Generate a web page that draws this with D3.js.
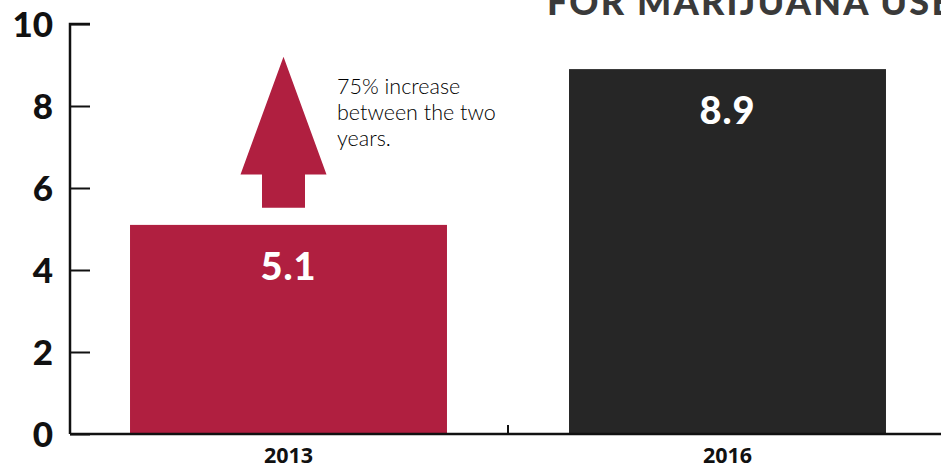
<!DOCTYPE html>
<html><head><meta charset="utf-8">
<script src="https://cdn.jsdelivr.net/npm/d3@7"></script>
<style>
html,body{margin:0;padding:0;background:#fff;}
svg{display:block;}
</style></head>
<body>
<svg id="chart" width="941" height="471"></svg>
<script>
const categories = ["2013", "2016"];
const values = [5.1, 8.9];
const barColors = ["#B01F40", "#262626"];
const yTicks = [0, 2, 4, 6, 8, 10];
const titleText = "FOR MARIJUANA USE";
const noteLines = ["75% increase", "between the two", "years."];
// arrow annotation in data units (value levels)
const arrowLevels = {tip: 9.2, headBase: 6.33, bottom: 5.52};

const svg = d3.select("#chart");
const W = 941, H = 471;
const m = {left: 70, top: 24, bottom: 37};
const x = d3.scaleBand().domain(categories).range([69, 947]).padding(0);
const y = d3.scaleLinear().domain([0, 10]).range([H - m.bottom, m.top]);
const barW = x.bandwidth() * 0.722;

// title (clipped at top)
svg.append("text").attr("x", 547).attr("y", 15)
  .attr("font-family", "Lato, sans-serif").attr("font-weight", 900)
  .attr("font-size", 36).attr("fill", "#3a3a3a").attr("letter-spacing", 2.2)
  .text(titleText);

// bars
svg.selectAll("rect.bar").data(categories).enter().append("rect")
  .attr("class", "bar")
  .attr("x", d => x(d) + x.bandwidth() / 2 - barW / 2)
  .attr("width", barW)
  .attr("y", (d, i) => y(values[i]))
  .attr("height", (d, i) => y(0) - y(values[i]) + 1)
  .attr("fill", (d, i) => barColors[i]);

// value labels
svg.selectAll("text.val").data(categories).enter().append("text")
  .attr("class", "val")
  .attr("x", d => x(d) + x.bandwidth() / 2)
  .attr("y", (d, i) => y(values[i]) + 55)
  .attr("text-anchor", "middle")
  .attr("font-family", "Lato, sans-serif").attr("font-weight", 900)
  .attr("font-size", 38).attr("fill", "#fff").attr("letter-spacing", 1)
  .text((d, i) => values[i].toFixed(1));

// y axis
const yAxis = svg.append("g").attr("transform", `translate(${m.left},0)`)
  .call(d3.axisRight(y).tickValues(yTicks).tickSize(20).tickFormat(""));
yAxis.select(".domain").attr("stroke", "#111").attr("stroke-width", 2.5)
  .attr("d", `M20,${y(10)}H0V${y(0)}`);
yAxis.selectAll(".tick line").attr("stroke", "#111").attr("stroke-width", 2);
svg.append("g").selectAll("text").data(yTicks).enter().append("text")
  .attr("x", 53).attr("y", d => y(d) + 13)
  .attr("text-anchor", "end")
  .attr("font-family", "Lato, sans-serif").attr("font-weight", 900)
  .attr("font-size", 35).attr("fill", "#111")
  .text(d => d);

// x axis
const xAxis = svg.append("g").attr("transform", `translate(0,${y(0)})`)
  .call(d3.axisBottom(x).tickSize(0).tickFormat(""));
xAxis.select(".domain").attr("stroke", "#111").attr("stroke-width", 2.5)
  .attr("d", `M${m.left},0H${W}`);
xAxis.selectAll(".tick line").remove();
svg.append("line")
  .attr("x1", x(categories[1])).attr("x2", x(categories[1]))
  .attr("y1", y(0)).attr("y2", y(0) - 9)
  .attr("stroke", "#111").attr("stroke-width", 2);
svg.selectAll("text.cat").data(categories).enter().append("text")
  .attr("class", "cat")
  .attr("x", d => x(d) + x.bandwidth() / 2)
  .attr("y", y(0) + 29)
  .attr("text-anchor", "middle")
  .attr("font-family", "'Open Sans', sans-serif").attr("font-weight", 700)
  .attr("font-size", 21.5).attr("fill", "#111")
  .text(d => d);

// arrow annotation
const cx = x(categories[0]) + x.bandwidth() / 2 - 5;
const headHalf = 43, shaftHalf = 21.5;
const arrowPts = [
  [cx, y(arrowLevels.tip)],
  [cx + headHalf, y(arrowLevels.headBase)],
  [cx + shaftHalf, y(arrowLevels.headBase)],
  [cx + shaftHalf, y(arrowLevels.bottom)],
  [cx - shaftHalf, y(arrowLevels.bottom)],
  [cx - shaftHalf, y(arrowLevels.headBase)],
  [cx - headHalf, y(arrowLevels.headBase)]
];
svg.append("path").attr("d", d3.line()(arrowPts) + "Z").attr("fill", barColors[0]);

const note = svg.append("text")
  .attr("font-family", "Lato, sans-serif").attr("font-weight", 300)
  .attr("font-size", 21.5).attr("fill", "#000");
note.selectAll("tspan").data(noteLines).enter().append("tspan")
  .attr("x", 337).attr("y", (d, i) => 94 + i * 26)
  .text(d => d);
</script>
</body></html>
